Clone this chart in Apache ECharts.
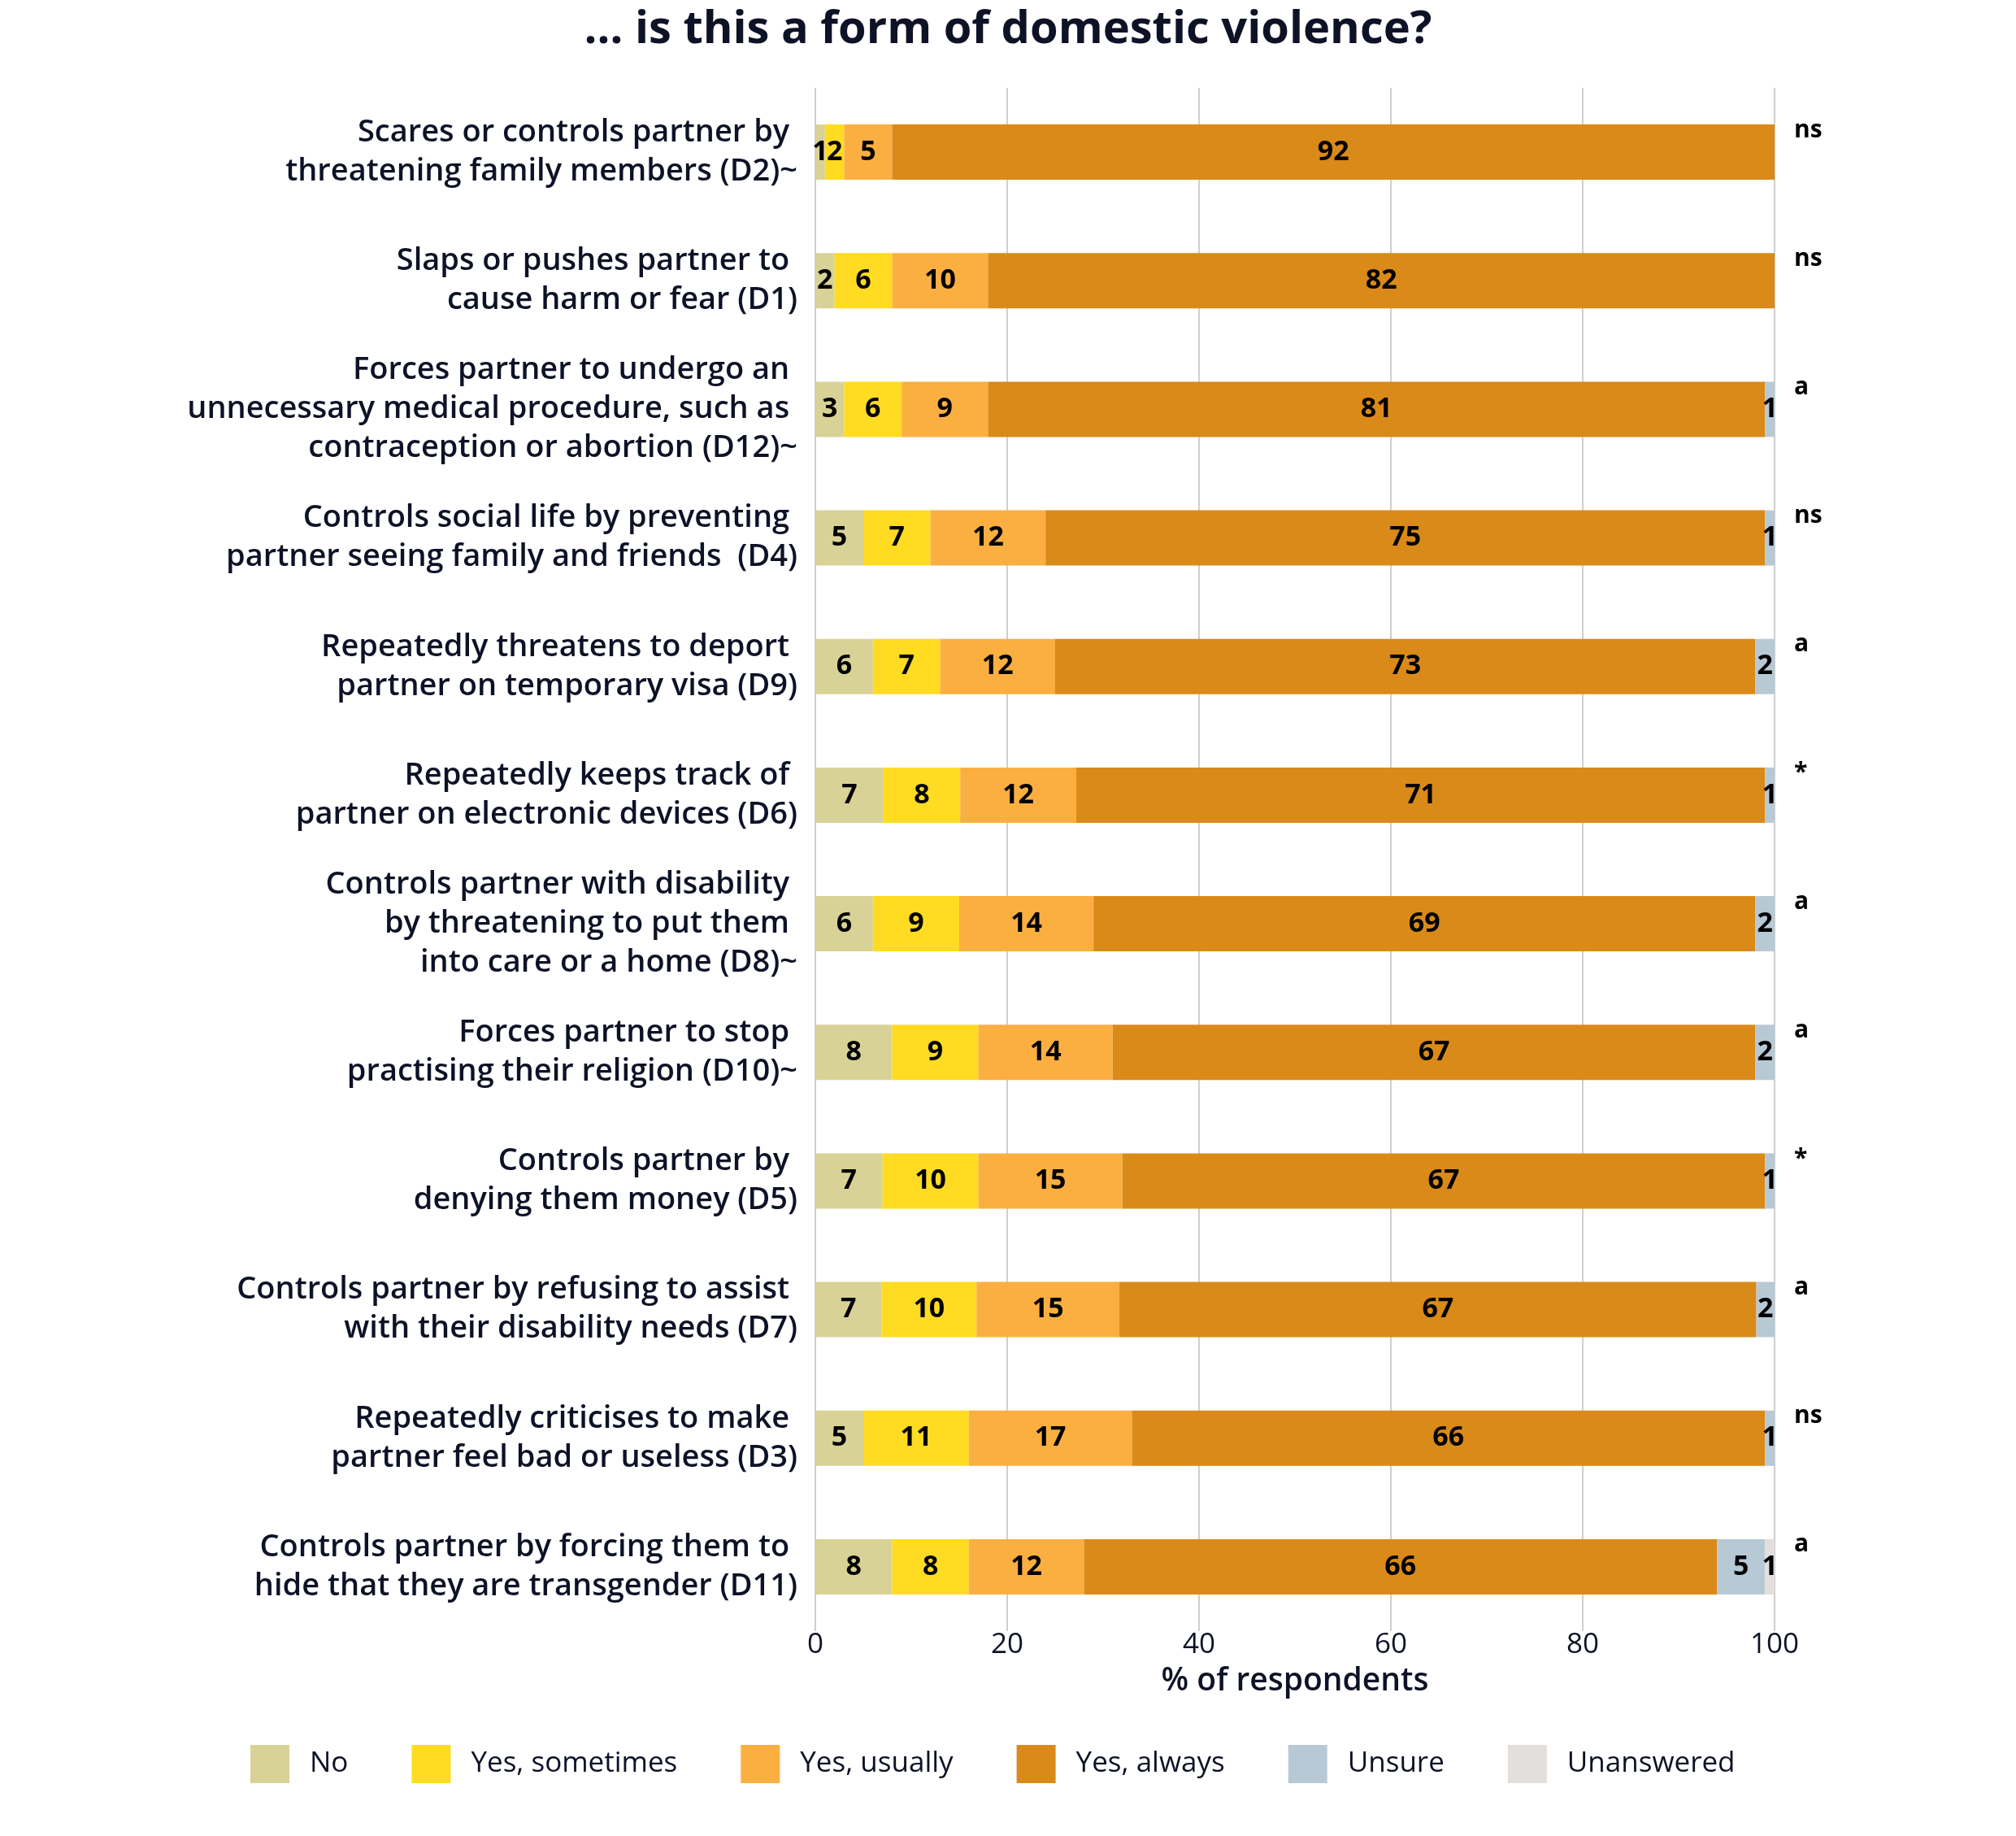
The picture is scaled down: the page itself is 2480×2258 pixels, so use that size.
<!DOCTYPE html>
<html>
<head>
<meta charset="utf-8">
<script src="https://cdn.jsdelivr.net/npm/echarts@6/dist/echarts.min.js"></script>
<style>
html,body{margin:0;padding:0;background:#fff;}
#chart{width:2480px;height:2258px;}
</style>
</head>
<body>
<div id="chart"></div>
<script>
const categories = [
  "Scares or controls partner by \nthreatening family members (D2)~",
  "Slaps or pushes partner to \ncause harm or fear (D1)",
  "Forces partner to undergo an \nunnecessary medical procedure, such as \ncontraception or abortion (D12)~",
  "Controls social life by preventing \npartner seeing family and friends  (D4)",
  "Repeatedly threatens to deport \npartner on temporary visa (D9)",
  "Repeatedly keeps track of \npartner on electronic devices (D6)",
  "Controls partner with disability \nby threatening to put them \ninto care or a home (D8)~",
  "Forces partner to stop \npractising their religion (D10)~",
  "Controls partner by \ndenying them money (D5)",
  "Controls partner by refusing to assist \nwith their disability needs (D7)",
  "Repeatedly criticises to make \npartner feel bad or useless (D3)",
  "Controls partner by forcing them to \nhide that they are transgender (D11)"
];
const significance = ["ns","ns","a","ns","a","*","a","a","*","a","ns","a"];

// bar lengths (% of respondents)
const noValues        = [1, 2, 3, 5, 6, 7.1, 6, 8, 7, 6.9, 5, 8];
const sometimesValues = [2, 6, 6, 7, 7, 8, 9, 9, 10, 9.9, 11, 8];
const usuallyValues   = [5, 10, 9, 12, 12, 12.1, 14, 14, 15, 14.9, 17, 12];
const alwaysValues    = [92, 82, 81, 75, 73, 71.8, 69, 67, 67, 66.4, 66, 66];
const unsureValues    = [null, null, 1, 1, 2, 1, 2, 2, 1, 1.9, 1, 5];
const unansweredValues= [null, null, null, null, null, null, null, null, null, null, null, 1];

// printed labels on the bars
const noLabels        = [1, 2, 3, 5, 6, 7, 6, 8, 7, 7, 5, 8];
const sometimesLabels = [2, 6, 6, 7, 7, 8, 9, 9, 10, 10, 11, 8];
const usuallyLabels   = [5, 10, 9, 12, 12, 12, 14, 14, 15, 15, 17, 12];
const alwaysLabels    = [92, 82, 81, 75, 73, 71, 69, 67, 67, 67, 66, 66];
const unsureLabels    = [null, null, 1, 1, 2, 1, 2, 2, 1, 2, 1, 5];
const unansweredLabels= [null, null, null, null, null, null, null, null, null, null, null, 1];

const xTicks = [0, 20, 40, 60, 80, 100];

const seriesDefs = [
  {name: "No", values: noValues, labels: noLabels, color: "#D9D297"},
  {name: "Yes, sometimes", values: sometimesValues, labels: sometimesLabels, color: "#FFDB22"},
  {name: "Yes, usually", values: usuallyValues, labels: usuallyLabels, color: "#FBAF41"},
  {name: "Yes, always", values: alwaysValues, labels: alwaysLabels, color: "#DA8A18"},
  {name: "Unsure", values: unsureValues, labels: unsureLabels, color: "#B8C9D6"},
  {name: "Unanswered", values: unansweredValues, labels: unansweredLabels, color: "#E2DFDC"}
];

const FONT = "'Open Sans', 'Noto Sans', sans-serif";
const DARK = "#0d1226";

const chart = echarts.init(document.getElementById('chart'), null, {renderer: 'canvas'});
chart.setOption({
  backgroundColor: '#ffffff',
  animation: false,
  title: {
    text: '… is this a form of domestic violence?',
    left: 'center',
    top: 4,
    textStyle: {fontFamily: FONT, fontSize: 56, fontWeight: 'bold', color: DARK}
  },
  legend: {
    left: 303,
    top: 2141,
    icon: 'rect',
    itemWidth: 48,
    itemHeight: 47,
    itemGap: 78,
    selectedMode: false,
    textStyle: {fontFamily: FONT, fontSize: 35, color: DARK, padding: [0, 0, 0, 20]},
    data: seriesDefs.map(s => s.name)
  },
  grid: {left: 1003, right: 297, top: 108, bottom: 252, containLabel: false},
  xAxis: {
    type: 'value',
    min: 0,
    max: 100,
    interval: 20,
    name: '% of respondents',
    nameLocation: 'middle',
    nameGap: 42,
    nameTextStyle: {fontFamily: FONT, fontSize: 39, fontWeight: 600, color: DARK, verticalAlign: 'top'},
    axisLine: {show: false},
    axisTick: {show: false},
    axisLabel: {
      fontFamily: FONT, fontSize: 35, color: DARK, margin: 0,
      formatter: v => xTicks.includes(v) ? String(v) : ''
    },
    splitLine: {show: true, lineStyle: {color: '#cfcfcf', width: 2}}
  },
  yAxis: [
    {
      type: 'category',
      inverse: true,
      data: categories,
      axisLine: {show: false},
      axisTick: {show: false},
      axisLabel: {
        fontFamily: FONT, fontSize: 38, fontWeight: 600, color: DARK,
        lineHeight: 48, margin: 22, align: 'right'
      }
    },
    {
      type: 'category',
      inverse: true,
      position: 'right',
      data: significance,
      axisLabel: {
        fontFamily: FONT, fontSize: 30, fontWeight: 'bold', color: '#000',
        margin: 24, align: 'left', verticalAlign: 'bottom', lineHeight: 40,
        padding: [0, 0, 7, 0]
      },
      axisLine: {show: false},
      axisTick: {show: false}
    }
  ],
  series: seriesDefs.map(s => ({
    name: s.name,
    type: 'bar',
    stack: 'total',
    yAxisIndex: 0,
    barWidth: 68,
    itemStyle: {color: s.color},
    label: {
      show: true,
      position: 'inside',
      fontFamily: FONT,
      fontSize: 34,
      fontWeight: 'bold',
      color: '#000',
      formatter: p => (s.labels[p.dataIndex] == null ? '' : String(s.labels[p.dataIndex]))
    },
    data: s.values
  }))
});
</script>
</body>
</html>
